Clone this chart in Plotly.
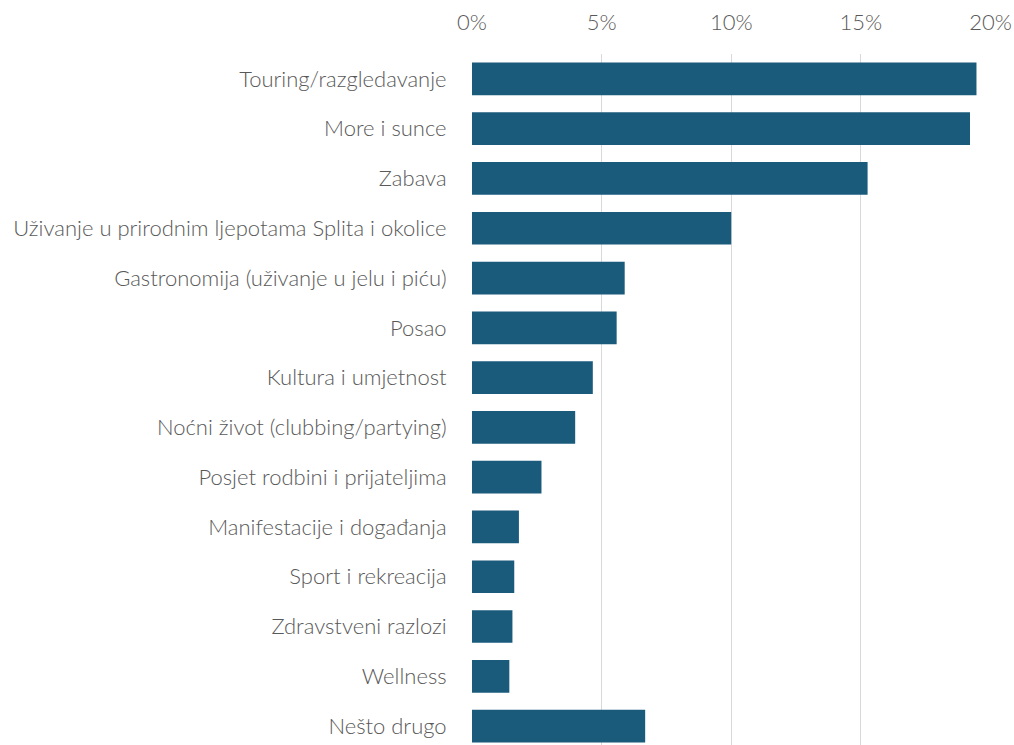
import plotly.graph_objects as go

# Motivi dolaska (udio ispitanika)
categories = [
    "Touring/razgledavanje",
    "More i sunce",
    "Zabava",
    "Uživanje u prirodnim ljepotama Splita i okolice",
    "Gastronomija (uživanje u jelu i piću)",
    "Posao",
    "Kultura i umjetnost",
    "Noćni život (clubbing/partying)",
    "Posjet rodbini i prijateljima",
    "Manifestacije i događanja",
    "Sport i rekreacija",
    "Zdravstveni razlozi",
    "Wellness",
    "Nešto drugo",
]
shares = [0.1946, 0.1921, 0.1526, 0.1000, 0.0589, 0.0558, 0.0466,
          0.0398, 0.0268, 0.0181, 0.0163, 0.0156, 0.0144, 0.0668]
tick_values = [0, 0.05, 0.10, 0.15, 0.20]
tick_labels = ["0%", "5%", "10%", "15%", "20%"]

BAR = "#1a5b7c"
TEXT = "#595959"
GRID = "#d9d9d9"
FONT = "Lato"
SIZE = 22
WEIGHT = 300

fig = go.Figure(
    go.Bar(
        x=shares,
        y=categories,
        orientation="h",
        marker=dict(color=BAR, line=dict(width=0)),
        hoverinfo="skip",
    )
)

fig.update_layout(
    width=1014,
    height=745,
    margin=dict(l=472, r=23, t=54, b=0),
    paper_bgcolor="white",
    plot_bgcolor="white",
    bargap=0.343,
    showlegend=False,
    font=dict(family=FONT, size=SIZE, color=TEXT, weight=WEIGHT),
)

fig.update_xaxes(
    side="top",
    range=[0, 0.2002],
    tickvals=tick_values,
    ticktext=tick_labels,
    showgrid=True,
    gridcolor=GRID,
    gridwidth=1,
    zeroline=False,
    showline=False,
    ticks="outside",
    ticklen=14,
    tickcolor="rgba(0,0,0,0)",
    tickfont=dict(family=FONT, size=SIZE, color=TEXT, weight=WEIGHT),
)

fig.update_yaxes(
    type="category",
    range=[13.38, -0.5],
    showgrid=False,
    zeroline=False,
    showline=False,
    ticks="outside",
    ticklen=20,
    tickcolor="rgba(0,0,0,0)",
    tickfont=dict(family=FONT, size=SIZE, color=TEXT, weight=WEIGHT),
)

fig.write_html("out.html")
